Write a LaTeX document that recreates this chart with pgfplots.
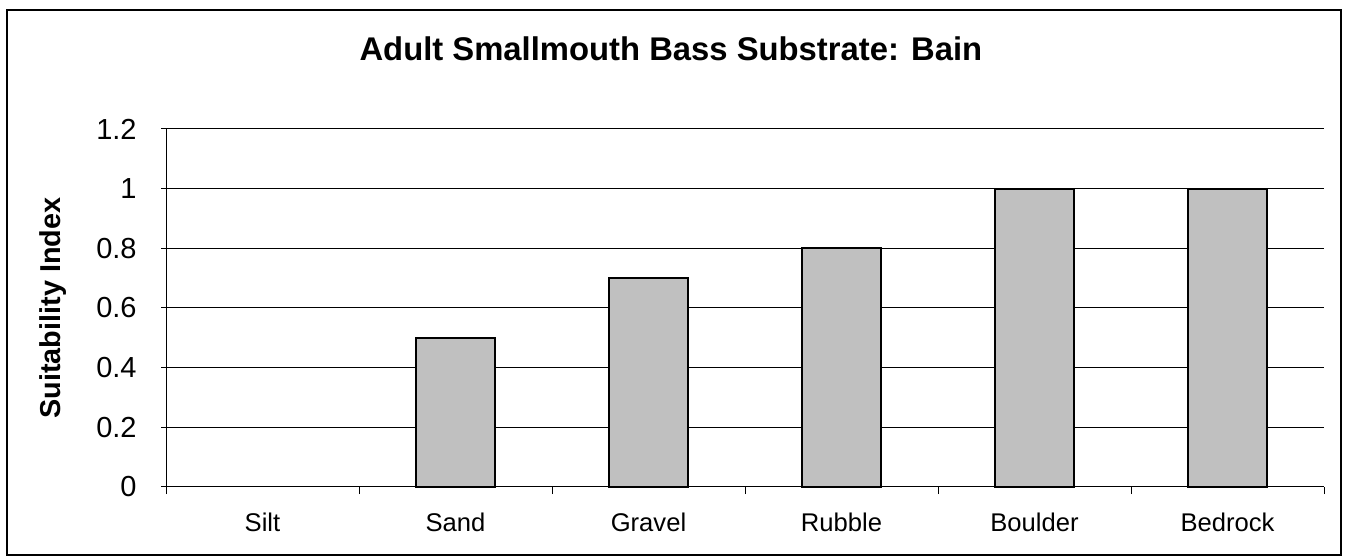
\documentclass[border=0pt]{standalone}
\usepackage{pgfplots}
\pgfplotsset{compat=1.18}
\usepackage{fontspec}
\setmainfont{Liberation Sans}

\definecolor{barfill}{HTML}{C0C0C0}

\begin{document}
\begin{tikzpicture}
  % whole picture is 1349x557 px, drawn at 0.5pt per px
  \useasboundingbox (0,0) rectangle (674.5pt,278.5pt);
  \draw[line width=1pt] (3.5pt,1pt) rectangle (670.5pt,273.5pt);
  \begin{axis}[
      at={(83pt,35pt)},
      anchor=south west,
      scale only axis,
      width=579pt,
      height=179pt,
      xmin=-0.5, xmax=5.5,
      ymin=0, ymax=1.2,
      ytick={0,0.2,...,1.2},
      xtick={0,1,2,3,4,5},
      xticklabels={Silt,Sand,Gravel,Rubble,Boulder,Bedrock},
      minor xtick={-0.5,0.5,...,5.5},
      major x tick style={draw=none},
      minor tick length=3.5pt,
      major tick length=5pt,
      tick align=outside,
      axis x line=bottom,
      axis y line=left,
      axis line style={-, line width=0.5pt},
      tick style={black, line width=0.5pt},
      ymajorgrids,
      grid style={black, line width=0.5pt},
      /pgf/number format/assume math mode=true,
      yticklabel style={font=\fontsize{14.5}{16}\selectfont, anchor=east, inner sep=0pt, xshift=-12pt},
      xticklabel style={font=\fontsize{12.8}{14}\selectfont, anchor=base, inner sep=0pt, yshift=-17pt},
      ylabel={Suitability Index},
      ylabel style={font=\bfseries\fontsize{14.4}{16}\selectfont, at={(axis description cs:-0.0976,0.5)}, anchor=center},
      title={Adult Smallmouth Bass Substrate: Bain},
      title style={font=\bfseries\fontsize{16.4}{18}\selectfont, at={(axis description cs:0.436,1.159)}, anchor=base},
      ybar,
      bar width=0.41,
      clip=false,
    ]
    \addplot[fill=barfill, draw=black, line width=1pt] coordinates {
      (1,0.5) (2,0.7) (3,0.8) (4,1) (5,1)
    };
  \end{axis}
\end{tikzpicture}
\end{document}
